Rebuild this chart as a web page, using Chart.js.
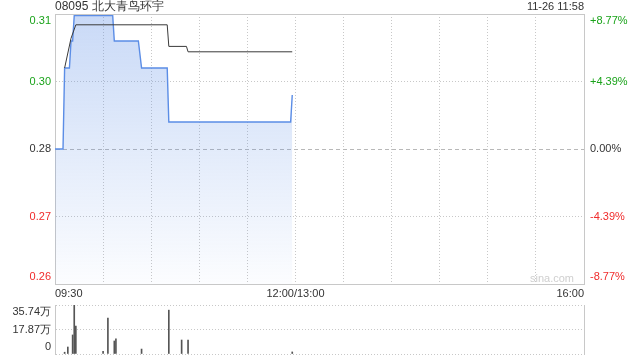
<!DOCTYPE html>
<html>
<head>
<meta charset="utf-8">
<script src="https://cdn.jsdelivr.net/npm/chart.js@4.4.1/dist/chart.umd.min.js"></script>
<style>
  body { margin: 0; background: #fff; }
  #wrap { position: relative; width: 640px; height: 360px; }
  canvas { position: absolute; left: 0; }
  #main { top: 0; }
  #vol { top: 298px; }
</style>
</head>
<body>
<div id="wrap">
  <canvas id="main" width="640" height="298"></canvas>
  <canvas id="vol" width="640" height="62"></canvas>
</div>
<script>
'use strict'

// minutes after 09:30 (lunch break removed, 330 = 16:00)
const priceMinutes = [0, 5, 6, 9, 10, 11, 12, 36, 37, 52, 54, 70, 71, 147, 148];
const priceValues = [0.285, 0.285, 0.30, 0.30, 0.305, 0.305, 0.3097, 0.3097, 0.305, 0.305, 0.30, 0.30, 0.29, 0.29, 0.295];

const avgMinutes = [6, 10, 13, 70, 71, 82, 83, 148];
const avgValues = [0.30, 0.3055, 0.308, 0.308, 0.304, 0.304, 0.303, 0.303];

const volMinutes = [6, 8, 11, 12, 13, 30, 33, 37, 38, 54, 71, 79, 83, 148];
const volValues = [1.3, 5.1, 13.9, 35.74, 20.4, 2, 26.2, 9.5, 11, 3.6, 32, 10.2, 10.2, 1.5]; // 万

const prevClose = 0.285;
const priceTicks = [0.26, 0.2725, 0.285, 0.2975, 0.31];
const priceLabels = ['0.26', '0.27', '0.28', '0.30', '0.31'];
const pctLabels = ['-8.77%', '-4.39%', '0.00%', '+4.39%', '+8.77%'];
const timeTicks = [0, 30, 60, 90, 120, 150, 180, 210, 240, 270, 300, 330];
const timeLabels = { 0: '09:30', 150: '12:00/13:00', 330: '16:00' };
const volTicks = [0, 17.87, 35.74];
const volLabels = ['0', '17.87万', '35.74万'];

const title = '08095 北大青鸟环宇';
const stamp = '11-26 11:58';

const FONT = 'Arial, "Liberation Sans", sans-serif';
const GREEN = '#1aa31a';
const RED = '#f02b2b';
const DARK = '#333';
const GRID = '#c8c8c8';

function colorFor(i) {
    const v = priceTicks[i];
    if (v > prevClose) return GREEN;
    if (v < prevClose) return RED;
    return DARK;
}

// push first label up and last label down, like the original
function edgeLabel(text, i, n) {
    if (i === n - 1) return ['', text];
    if (i === 0) return [text, ''];
    return text;
}

function fixWidth(w) {
    return scale => {
        scale.width = w;
        scale.paddingTop = 0;
        scale.paddingBottom = 0;
    };
}

const textPlugin = {
    id: 'texts',
    afterDraw(chart) {
        const ctx = chart.ctx;
        const area = chart.chartArea;
        ctx.save();
        ctx.textBaseline = 'middle';
        ctx.fillStyle = DARK;
        ctx.font = '12px ' + FONT;
        ctx.textAlign = 'left';
        ctx.fillText(title, area.left, 7);
        ctx.font = '11px ' + FONT;
        ctx.textAlign = 'right';
        ctx.fillText(stamp, area.right, 7);
        ctx.fillStyle = '#cfcfcf';
        ctx.fillText('sina.com', area.right - 10, area.bottom - 5);
        ctx.restore();
    }
};

const toPoints = (xs, ys) => xs.map((x, i) => ({ x: x, y: ys[i] }));

new Chart(document.getElementById('main'), {
    type: 'line',
    data: {
        datasets: [
            {
                data: toPoints(avgMinutes, avgValues),
                borderColor: '#3a3a3a',
                borderWidth: 1,
                pointRadius: 0,
                fill: false
            },
            {
                data: toPoints(priceMinutes, priceValues),
                borderColor: '#5b8de6',
                borderWidth: 1.4,
                pointRadius: 0,
                clip: false,
                fill: 'start',
                backgroundColor: function (context) {
                    const area = context.chart.chartArea;
                    if (!area) return 'rgba(91,141,230,0.2)';
                    const g = context.chart.ctx.createLinearGradient(0, area.top, 0, area.bottom);
                    g.addColorStop(0, 'rgba(91,141,230,0.33)');
                    g.addColorStop(1, 'rgba(91,141,230,0.02)');
                    return g;
                }
            }
        ]
    },
    options: {
        responsive: false,
        animation: false,
        devicePixelRatio: 1,
        layout: { padding: { top: 14, left: 0, right: 0, bottom: 0 } },
        plugins: { legend: { display: false }, tooltip: { enabled: false } },
        scales: {
            x: {
                type: 'linear',
                min: 0,
                max: 330,
                afterBuildTicks: scale => { scale.ticks = timeTicks.map(v => ({ value: v })); },
                afterFit: scale => { scale.height = 14; },
                ticks: {
                    autoSkip: false,
                    maxRotation: 0,
                    align: 'inner',
                    padding: 3,
                    color: DARK,
                    font: { size: 11, family: FONT },
                    callback: v => timeLabels[v] || ''
                },
                grid: {
                    drawTicks: false,
                    color: ctx => (ctx.index === 0 || ctx.index === timeTicks.length - 1) ? 'rgba(0,0,0,0)' : GRID
                },
                border: { display: true, color: GRID, dash: [1, 2] }
            },
            y: {
                position: 'left',
                min: 0.26,
                max: 0.31,
                afterBuildTicks: scale => { scale.ticks = priceTicks.map(v => ({ value: v })); },
                afterFit: fixWidth(55),
                ticks: {
                    autoSkip: false,
                    padding: 4,
                    font: { size: 11, family: FONT },
                    color: ctx => colorFor(ctx.index),
                    callback: (v, i) => edgeLabel(priceLabels[i], i, priceLabels.length)
                },
                grid: {
                    drawTicks: false,
                    color: ctx => {
                        if (ctx.index === 0) return 'rgba(0,0,0,0)';
                        if (ctx.index === 2) return '#b8b8b8';
                        return GRID;
                    }
                },
                border: {
                    display: true,
                    color: GRID,
                    dash: ctx => {
                        if (ctx.index === priceTicks.length - 1) return [];
                        if (ctx.index === 2) return [4, 3];
                        return [1, 2];
                    }
                }
            },
            y2: {
                position: 'right',
                min: 0.26,
                max: 0.31,
                afterBuildTicks: scale => { scale.ticks = priceTicks.map(v => ({ value: v })); },
                afterFit: fixWidth(56),
                ticks: {
                    autoSkip: false,
                    padding: 6,
                    font: { size: 11, family: FONT },
                    color: ctx => colorFor(ctx.index),
                    callback: (v, i) => edgeLabel(pctLabels[i], i, pctLabels.length)
                },
                grid: { drawOnChartArea: false, drawTicks: false },
                border: { display: true, color: GRID }
            }
        }
    },
    plugins: [textPlugin]
});

new Chart(document.getElementById('vol'), {
    type: 'bar',
    data: {
        datasets: [
            {
                data: toPoints(volMinutes, volValues),
                backgroundColor: '#555',
                barThickness: 1
            }
        ]
    },
    options: {
        responsive: false,
        animation: false,
        devicePixelRatio: 1,
        layout: { padding: { top: 7, bottom: 6, left: 0, right: 0 } },
        plugins: { legend: { display: false }, tooltip: { enabled: false } },
        scales: {
            x: {
                type: 'linear',
                min: 0,
                max: 330,
                offset: false,
                grid: { offset: false },
                display: false
            },
            y: {
                position: 'left',
                min: 0,
                max: 35.74,
                afterBuildTicks: scale => { scale.ticks = volTicks.map(v => ({ value: v })); },
                afterFit: fixWidth(55),
                ticks: {
                    autoSkip: false,
                    padding: 4,
                    color: DARK,
                    font: { size: 11, family: FONT },
                    callback: (v, i) => edgeLabel(volLabels[i], i, volLabels.length)
                },
                grid: { drawTicks: false, color: GRID },
                border: { display: true, color: GRID, dash: [1, 2] }
            },
            y2: {
                position: 'right',
                min: 0,
                max: 35.74,
                afterFit: fixWidth(56),
                ticks: { display: false },
                grid: { drawOnChartArea: false, drawTicks: false },
                border: { display: true, color: GRID }
            }
        }
    }
});
</script>
</body>
</html>
